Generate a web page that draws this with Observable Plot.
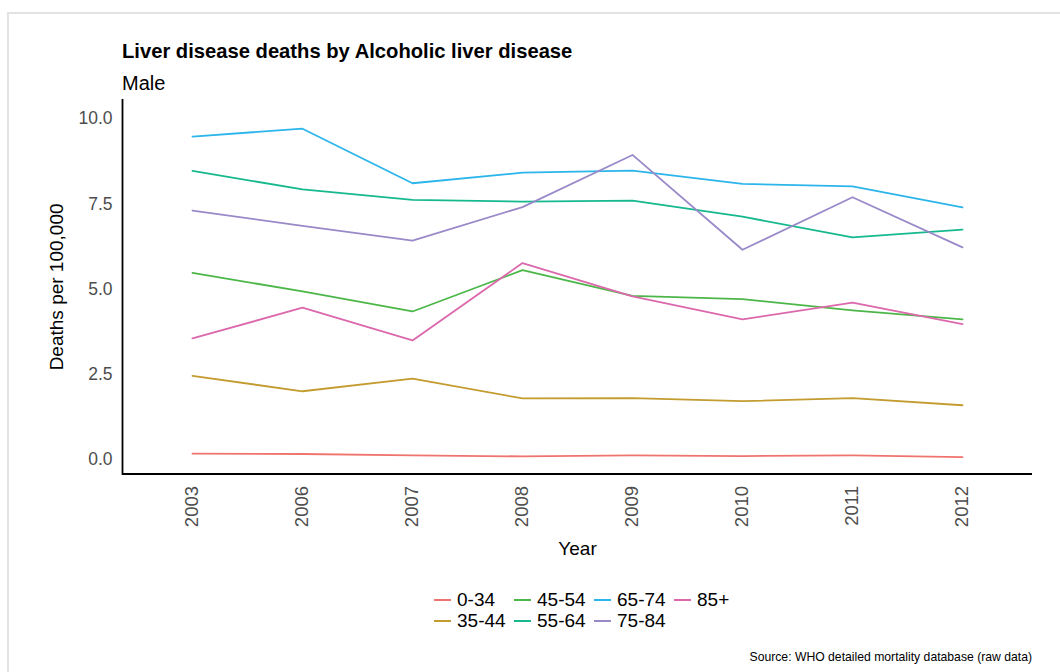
<!DOCTYPE html>
<html>
<head>
<meta charset="utf-8">
<script src="https://cdn.jsdelivr.net/npm/d3@7"></script>
<script src="https://cdn.jsdelivr.net/npm/@observablehq/plot@0.6"></script>
<style>
  html, body { margin: 0; padding: 0; background: #fff; width: 1060px; height: 672px; overflow: hidden; }
  body { position: relative; font-family: "Liberation Sans", Arial, sans-serif; }
  #frame { position: absolute; left: 7px; top: 12px; width: 1100px; height: 700px; border-left: 2px solid #e3e3e3; border-top: 2px solid #e3e3e3; }
  #title { position: absolute; left: 122px; top: 38.5px; font-size: 20.2px; line-height: 24px; font-weight: bold; color: #000; white-space: nowrap; }
  #subtitle { position: absolute; left: 122px; top: 70.5px; font-size: 20px; line-height: 24px; color: #000; white-space: nowrap; }
  #chart { position: absolute; left: 0; top: 90px; }
  #legend { position: absolute; left: 434px; top: 589px; display: grid; grid-template-columns: 80px 80px 80px 80px; grid-auto-flow: column; grid-template-rows: 21px 21px; font-size: 19px; line-height: 21px; color: #000; }
  .item { display: flex; align-items: center; white-space: nowrap; }
  .sw { display: inline-block; width: 17px; height: 2px; margin-right: 6px; position: relative; top: 0px; }
  #caption { position: absolute; right: 28px; top: 650px; font-size: 12.2px; line-height: 14px; color: #000; white-space: nowrap; }
</style>
</head>
<body>
<div id="frame"></div>
<div id="title">Liver disease deaths by Alcoholic liver disease</div>
<div id="subtitle">Male</div>
<div id="chart"></div>
<div id="legend"></div>
<div id="caption">Source: WHO detailed mortality database (raw data)</div>
<script>
// ---- data ----
const years = ["2003", "2006", "2007", "2008", "2009", "2010", "2011", "2012"];
const ageGroups = ["0-34", "35-44", "45-54", "55-64", "65-74", "75-84", "85+"];
const rate_0_34  = [0.18, 0.17, 0.13, 0.10, 0.13, 0.11, 0.13, 0.08];
const rate_35_44 = [2.46, 2.01, 2.38, 1.80, 1.81, 1.72, 1.81, 1.60];
const rate_45_54 = [5.48, 4.94, 4.35, 5.56, 4.81, 4.71, 4.38, 4.12];
const rate_55_64 = [8.47, 7.93, 7.62, 7.57, 7.60, 7.13, 6.52, 6.75];
const rate_65_74 = [9.48, 9.71, 8.11, 8.42, 8.48, 8.09, 8.02, 7.40];
const rate_75_84 = [7.31, 6.86, 6.43, 7.41, 8.94, 6.16, 7.70, 6.23];
const rate_85p   = [3.56, 4.46, 3.50, 5.77, 4.79, 4.12, 4.61, 3.98];
const yTicks = [0, 2.5, 5, 7.5, 10];
const palette = ["#F0746E", "#C39B2F", "#4CB748", "#16B88E", "#2CB5EA", "#9A89C9", "#DC68AC"];

const series = [rate_0_34, rate_35_44, rate_45_54, rate_55_64, rate_65_74, rate_75_84, rate_85p];
const data = ageGroups.flatMap((g, i) => series[i].map((v, j) => ({year: years[j], group: g, value: v})));

const yDomain = [-0.416, 10.557];

const chart = Plot.plot({
  width: 1060,
  height: 480,
  marginLeft: 122,
  marginRight: 28,
  marginTop: 9.3,
  marginBottom: 96.5,
  style: {background: "transparent", color: "#4d4d4d", fontFamily: "'Liberation Sans', Arial, sans-serif"},
  x: {type: "point", domain: years, padding: 0.6},
  y: {domain: yDomain},
  color: {domain: ageGroups, range: palette},
  marks: [
    Plot.axisX({tickSize: 0, tickPadding: 12, tickRotate: -90, fontSize: 18.5, label: null}),
    Plot.axisY({ticks: yTicks, tickFormat: d3.format(".1f"), tickSize: 0, tickPadding: 10, fontSize: 17.5, label: null}),
    Plot.line(data, {x: "year", y: "value", z: "group", stroke: "group", strokeWidth: 1.8}),
    Plot.ruleY([yDomain[0]], {stroke: "black", strokeWidth: 1.8}),
    Plot.frame({anchor: "left", stroke: "black", strokeWidth: 1.8}),
    Plot.text(["Year"], {frameAnchor: "bottom", dy: 80.5, fontSize: 19, fill: "black"}),
    Plot.text(["Deaths per 100,000"], {frameAnchor: "left", textAnchor: "middle", lineAnchor: "middle", dx: -66, rotate: -90, fontSize: 19, fill: "black"})
  ]
});
document.getElementById("chart").appendChild(chart);

// ---- legend ----
const legend = document.getElementById("legend");
ageGroups.forEach((g, i) => {
  const item = document.createElement("div");
  item.className = "item";
  const sw = document.createElement("span");
  sw.className = "sw";
  sw.style.background = palette[i];
  item.appendChild(sw);
  item.appendChild(document.createTextNode(g));
  legend.appendChild(item);
});
</script>
</body>
</html>
